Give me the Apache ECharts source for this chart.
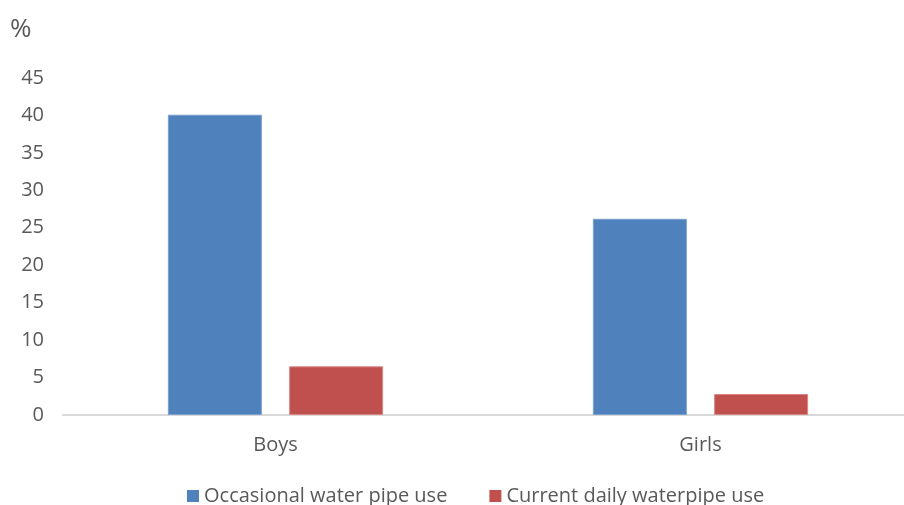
<!DOCTYPE html>
<html>
<head>
<meta charset="utf-8">
<script src="https://cdn.jsdelivr.net/npm/echarts@6/dist/echarts.min.js"></script>
<style>
  html, body { margin: 0; padding: 0; background: #fff; overflow: hidden; }
  /* plot runs a little past the right edge of the window, as in the source */
  #chart { width: 913px; height: 505px; }
</style>
</head>
<body>
<div id="chart"></div>
<script>
const categories = ['Boys', 'Girls'];
const occasionalUse = [40.1, 26.2];
const dailyUse = [6.5, 2.8];
const yTicks = [0, 5, 10, 15, 20, 25, 30, 35, 40, 45];

const textColor = '#595959';
const font = 'Open Sans';

const chart = echarts.init(document.getElementById('chart'));
chart.setOption({
  animation: false,
  textStyle: { fontFamily: font },
  graphic: [
    {
      type: 'text',
      left: 10,
      top: 17,
      style: { text: '%', fontSize: 26, fill: textColor, fontFamily: font },
    },
  ],
  grid: {
    left: 63,
    right: 0,
    top: 78,
    bottom: 90,
    containLabel: false,
  },
  legend: {
    bottom: -6,
    left: 182,
    icon: 'rect',
    itemWidth: 12,
    itemHeight: 12,
    itemGap: 42,
    itemStyle: { borderWidth: 0 },
    textStyle: { color: textColor, fontSize: 20, fontFamily: font },
    data: ['Occasional water pipe use', 'Current daily waterpipe use'],
  },
  xAxis: {
    type: 'category',
    data: categories,
    axisLine: { lineStyle: { color: '#d9d9d9', width: 2 } },
    axisTick: { show: false },
    axisLabel: { color: textColor, fontSize: 20, margin: 20 },
  },
  yAxis: {
    type: 'value',
    min: yTicks[0],
    max: yTicks[yTicks.length - 1],
    interval: 5,
    splitLine: { show: false },
    axisLine: { show: false },
    axisTick: { show: false },
    axisLabel: { color: textColor, fontSize: 20, margin: 19 },
  },
  series: [
    {
      name: 'Occasional water pipe use',
      type: 'bar',
      data: occasionalUse,
      barWidth: 94,
      barGap: '29%',
      itemStyle: { color: '#4f81bd', borderColor: '#7ba0d0', borderWidth: 1 },
    },
    {
      name: 'Current daily waterpipe use',
      type: 'bar',
      data: dailyUse,
      barWidth: 94,
      itemStyle: { color: '#c0504d', borderColor: '#d98886', borderWidth: 1 },
    },
  ],
});
</script>
</body>
</html>
